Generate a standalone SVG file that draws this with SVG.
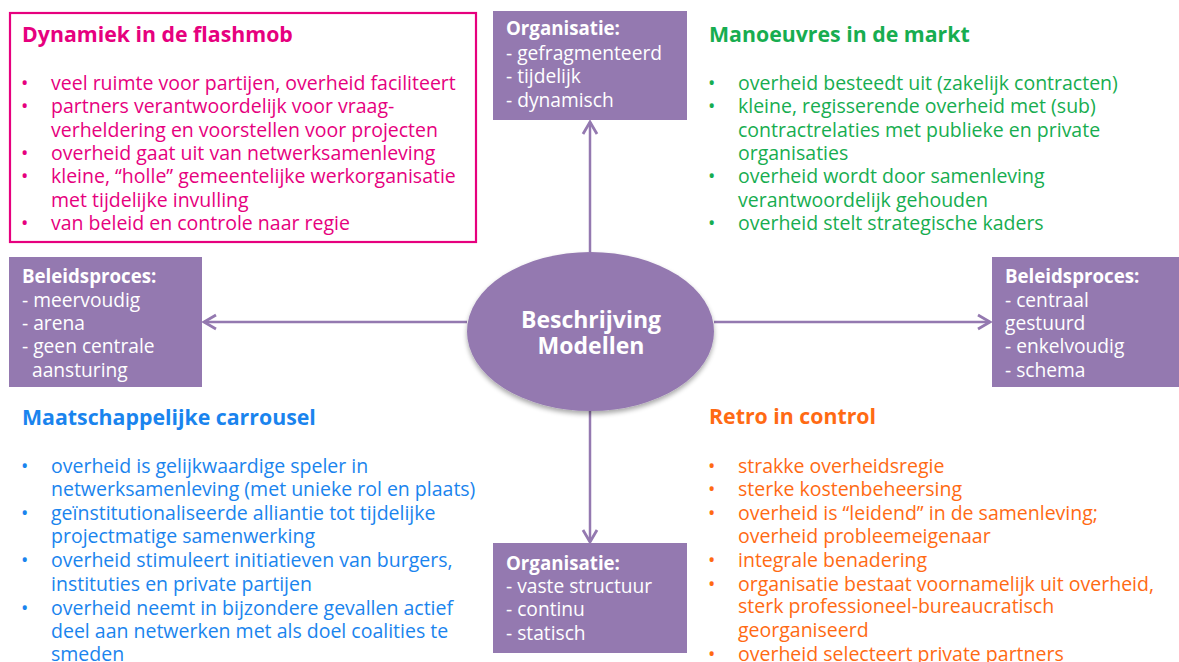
<svg xmlns="http://www.w3.org/2000/svg" width="1179" height="662" viewBox="0 0 1179 662">
<style>
text{font-family:"Open Sans","Liberation Sans",sans-serif;font-size:19.5px}
.t{font-weight:bold;font-size:21.3px}
.pk{fill:#e6007e}.gr{fill:#17ad50}.bl{fill:#1a84ee}.or{fill:#ff6a13}
.w{fill:#ffffff;font-size:19.2px}.b{font-weight:bold;font-size:18.7px}
.c{fill:#ffffff;font-weight:bold;font-size:23px}
.box{fill:#9479b0}
.con{stroke:#9479b0;stroke-width:2.5;fill:none}
</style>
<defs>
<marker id="arr" markerUnits="userSpaceOnUse" markerWidth="16" markerHeight="18" refX="13" refY="8" orient="auto" viewBox="0 0 16 16">
<path d="M1,1 L13,8 L1,15" fill="none" stroke="#9479b0" stroke-width="2.8"/>
</marker>
<filter id="sh" x="-10%" y="-10%" width="120%" height="130%">
<feGaussianBlur in="SourceAlpha" stdDeviation="2.5"/>
<feOffset dx="0" dy="3" result="o"/>
<feComponentTransfer><feFuncA type="linear" slope="0.35"/></feComponentTransfer>
<feMerge><feMergeNode/><feMergeNode in="SourceGraphic"/></feMerge>
</filter>
</defs>

<g id="connectors">
<line class="con" x1="590" y1="252" x2="590" y2="122" marker-end="url(#arr)"/>
<line class="con" x1="590" y1="411" x2="590" y2="542" marker-end="url(#arr)"/>
<line class="con" x1="467" y1="322" x2="204" y2="322" marker-end="url(#arr)"/>
<line class="con" x1="714" y1="322" x2="990" y2="322" marker-end="url(#arr)"/>
</g>

<g id="center">
<ellipse cx="590.5" cy="331.5" rx="123.5" ry="79.5" class="box" filter="url(#sh)"/>
<text class="c" x="591" y="328" text-anchor="middle">Beschrijving</text>
<text class="c" x="591" y="354" text-anchor="middle">Modellen</text>
</g>

<g id="flashmob">
<rect x="10" y="13" width="466" height="229" fill="none" stroke="#e6007e" stroke-width="2.2"/>
<text class="t pk" x="22" y="42">Dynamiek in de flashmob</text>
<g class="pk">
<text x="21" y="90">•</text><text x="51" y="90">veel ruimte voor partijen, overheid faciliteert</text>
<text x="21" y="113">•</text><text x="51" y="113">partners verantwoordelijk voor vraag-</text>
<text x="51" y="137">verheldering en voorstellen voor projecten</text>
<text x="21" y="160">•</text><text x="51" y="160">overheid gaat uit van netwerksamenleving</text>
<text x="21" y="183">•</text><text x="51" y="183">kleine, “holle” gemeentelijke werkorganisatie</text>
<text x="51" y="207">met tijdelijke invulling</text>
<text x="21" y="230">•</text><text x="51" y="230">van beleid en controle naar regie</text>
</g>
</g>

<g id="org-top">
<rect class="box" x="493" y="11" width="194" height="109"/>
<text class="w b" x="506" y="35">Organisatie:</text>
<text class="w" x="506" y="60">- gefragmenteerd</text>
<text class="w" x="506" y="83">- tijdelijk</text>
<text class="w" x="506" y="107">- dynamisch</text>
</g>

<g id="markt">
<text class="t gr" x="709" y="42">Manoeuvres in de markt</text>
<g class="gr">
<text x="708" y="90">•</text><text x="738" y="90">overheid besteedt uit (zakelijk contracten)</text>
<text x="708" y="113">•</text><text x="738" y="113">kleine, regisserende overheid met (sub)</text>
<text x="738" y="137">contractrelaties met publieke en private</text>
<text x="738" y="160">organisaties</text>
<text x="708" y="183">•</text><text x="738" y="183">overheid wordt door samenleving</text>
<text x="738" y="207">verantwoordelijk gehouden</text>
<text x="708" y="230">•</text><text x="738" y="230">overheid stelt strategische kaders</text>
</g>
</g>

<g id="beleid-left">
<rect class="box" x="9" y="257" width="193" height="130"/>
<text class="w b" x="22" y="283">Beleidsproces:</text>
<text class="w" x="22" y="307">- meervoudig</text>
<text class="w" x="22" y="330">- arena</text>
<text class="w" x="22" y="353">- geen centrale</text>
<text class="w" x="32" y="377">aansturing</text>
</g>

<g id="beleid-right">
<rect class="box" x="992" y="257" width="187" height="130"/>
<text class="w b" x="1005" y="283">Beleidsproces:</text>
<text class="w" x="1005" y="307">- centraal</text>
<text class="w" x="1005" y="330">gestuurd</text>
<text class="w" x="1005" y="353">- enkelvoudig</text>
<text class="w" x="1005" y="377">- schema</text>
</g>

<g id="carrousel">
<text class="t bl" x="22" y="425">Maatschappelijke carrousel</text>
<g class="bl">
<text x="21" y="473">•</text><text x="51" y="473">overheid is gelijkwaardige speler in</text>
<text x="51" y="496">netwerksamenleving (met unieke rol en plaats)</text>
<text x="21" y="520">•</text><text x="51" y="520">geïnstitutionaliseerde alliantie tot tijdelijke</text>
<text x="51" y="543">projectmatige samenwerking</text>
<text x="21" y="567">•</text><text x="51" y="567">overheid stimuleert initiatieven van burgers,</text>
<text x="51" y="591">instituties en private partijen</text>
<text x="21" y="615">•</text><text x="51" y="615">overheid neemt in bijzondere gevallen actief</text>
<text x="51" y="638">deel aan netwerken met als doel coalities te</text>
<text x="51" y="661">smeden</text>
</g>
</g>

<g id="org-bottom">
<rect class="box" x="493" y="543" width="194" height="110"/>
<text class="w b" x="506" y="570">Organisatie:</text>
<text class="w" x="506" y="593">- vaste structuur</text>
<text class="w" x="506" y="616">- continu</text>
<text class="w" x="506" y="640">- statisch</text>
</g>

<g id="retro">
<text class="t or" x="709" y="424">Retro in control</text>
<g class="or">
<text x="708" y="473">•</text><text x="738" y="473">strakke overheidsregie</text>
<text x="708" y="496">•</text><text x="738" y="496">sterke kostenbeheersing</text>
<text x="708" y="520">•</text><text x="738" y="520">overheid is “leidend” in de samenleving;</text>
<text x="738" y="543">overheid probleemeigenaar</text>
<text x="708" y="567">•</text><text x="738" y="567">integrale benadering</text>
<text x="708" y="591">•</text><text x="738" y="591">organisatie bestaat voornamelijk uit overheid,</text>
<text x="738" y="613">sterk professioneel-bureaucratisch</text>
<text x="738" y="637">georganiseerd</text>
<text x="708" y="661">•</text><text x="738" y="661">overheid selecteert private partners</text>
</g>
</g>
</svg>
